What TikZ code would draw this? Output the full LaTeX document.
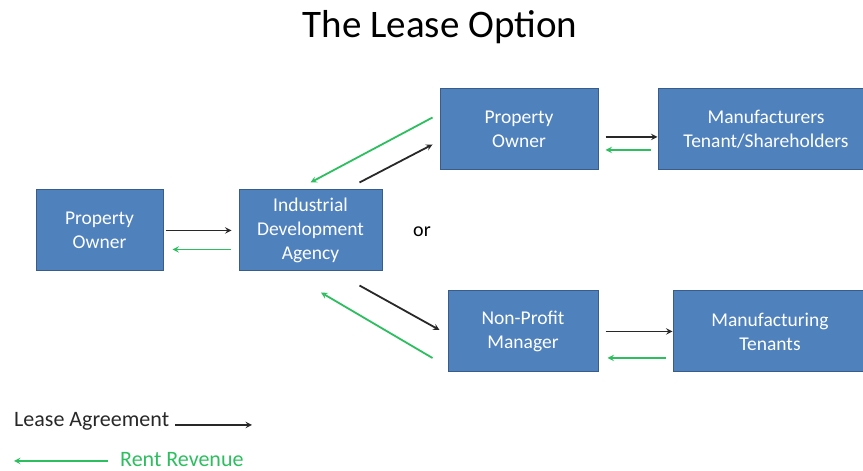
\documentclass[tikz,border=0pt]{standalone}
\usepackage{fontspec}
\setmainfont{Carlito}
\usetikzlibrary{arrows, positioning}

\definecolor{boxblue}{RGB}{79,129,189}
\definecolor{boxedge}{RGB}{56,93,138}
\definecolor{leaseblack}{RGB}{40,40,40}
\definecolor{rentgreen}{RGB}{45,190,95}

\begin{document}
\begin{tikzpicture}[
    x=1pt, y=1pt,
    node distance=75pt,
    party/.style={rectangle, draw=boxedge, fill=boxblue, line width=1pt, text=white, align=center, minimum height=81pt, font=\fontsize{19.5}{24}\selectfont},
    lease/.style={->, >=stealth, line width=1.8pt, draw=leaseblack},
    rent/.style={->, >=stealth, line width=1.8pt, draw=rentgreen},
    legend/.style={inner sep=0pt, anchor=west, font=\fontsize{22}{26}\selectfont}
]
\useasboundingbox (0,0) rectangle (863,471);

\node[font=\fontsize{39}{44}\selectfont] (title) at (440,444) {The Lease Option};

\node[party, minimum width=127pt] (owner) at (99.5,240.5) {Property\\Owner};
\node[party, minimum width=143pt, right=75pt of owner] (ida) {Industrial\\Development\\Agency};
\node[party, minimum width=158pt] (owner2) at (519,341.5) {Property\\Owner};
\node[party, minimum width=216pt, right=59pt of owner2] (makers) {Manufacturers\\Tenant/Shareholders};
\node[party, minimum width=150pt] (nonprofit) at (523,139.5) {Non-Profit\\Manager};
\node[party, minimum width=194pt, right=74pt of nonprofit] (tenants) {Manufacturing\\Tenants};
\node[font=\fontsize{20}{24}\selectfont] (or) at (422,239) {or};

% owner <-> agency
\draw[lease] ([xshift=2pt]owner.east) -- ([xshift=-7pt]ida.west);
\draw[rent] ([xshift=-8pt,yshift=-19pt]ida.west) -- ([xshift=9pt,yshift=-19pt]owner.east);

% agency <-> upper branch
\draw[lease] ([xshift=-23pt,yshift=7pt]ida.north east) -- ([xshift=-7pt,yshift=-15pt]owner2.west);
\draw[rent] ([xshift=-7pt,yshift=12pt]owner2.west) -- ([yshift=7pt]ida.north);
\draw[lease] ([xshift=7pt,yshift=-7.5pt]owner2.east) -- ([yshift=-7.5pt]makers.west);
\draw[rent] ([xshift=-7pt,yshift=-20.5pt]makers.west) -- ([xshift=7pt,yshift=-20.5pt]owner2.east);

% agency <-> lower branch
\draw[lease] ([xshift=-23pt,yshift=-14pt]ida.south east) -- ([xshift=-8pt,yshift=1.5pt]nonprofit.west);
\draw[rent] ([xshift=-15pt,yshift=-26.5pt]nonprofit.west) -- ([xshift=10.5pt,yshift=-21pt]ida.south);
\draw[lease] ([xshift=7pt]nonprofit.east) -- (tenants.west);
\draw[rent] ([xshift=-7pt,yshift=-26.5pt]tenants.west) -- ([xshift=9pt,yshift=-26.5pt]nonprofit.east);

% legend
\node[legend, text=leaseblack] (leaselabel) at (14,50) {Lease Agreement};
\coordinate (leaseend) at (252,46);
\draw[lease] ([xshift=6pt,yshift=-4pt]leaselabel.east) -- (leaseend);
\node[legend, text=rentgreen] (rentlabel) at (120,11) {Rent Revenue};
\coordinate (rentend) at (14,10);
\draw[rent] ([xshift=-12pt,yshift=-1pt]rentlabel.west) -- (rentend);

\end{tikzpicture}
\end{document}
